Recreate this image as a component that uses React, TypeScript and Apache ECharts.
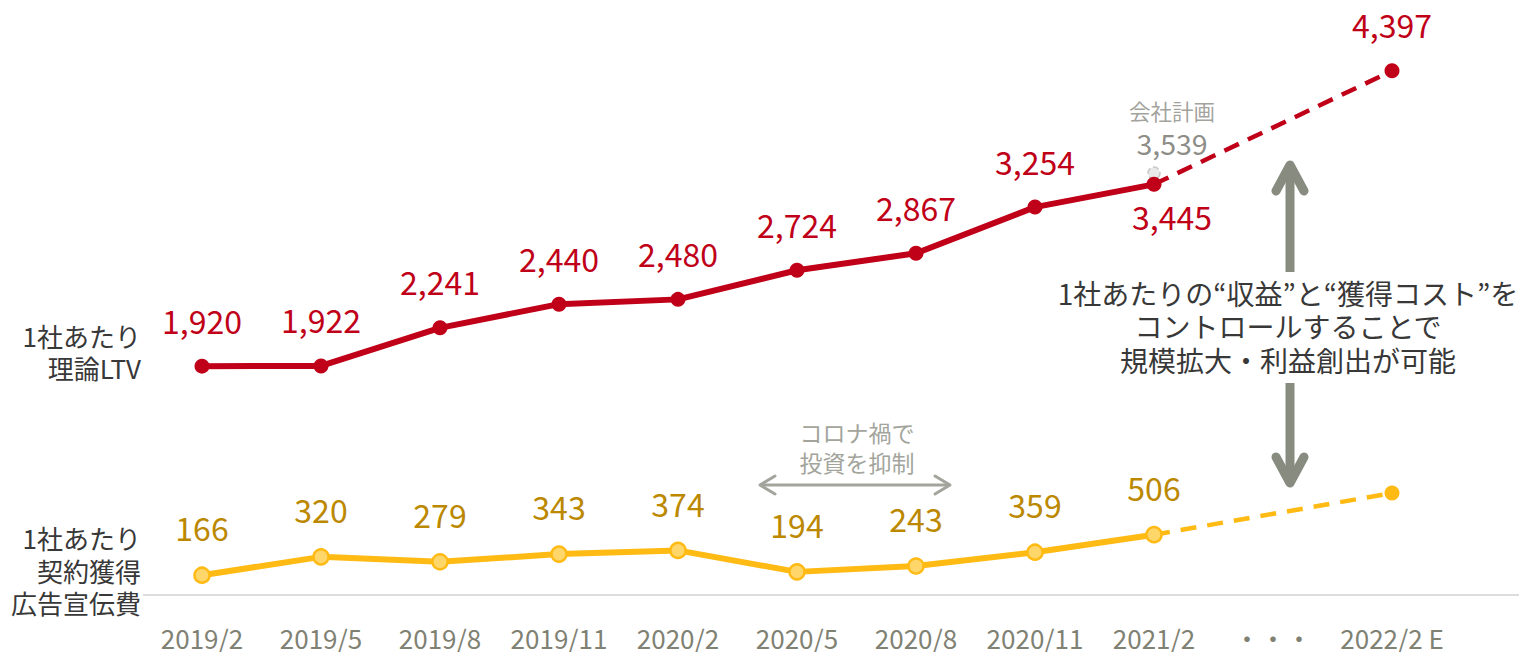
import React, { useEffect, useRef } from "react";
import * as echarts from "echarts";

const categories = ["2019/2", "2019/5", "2019/8", "2019/11", "2020/2", "2020/5", "2020/8", "2020/11", "2021/2", "・・・", "2022/2 E"];
const ltvActual = [1920, 1922, 2241, 2440, 2480, 2724, 2867, 3254, 3445];
const ltvForecast = 4397;
const ltvPlan = 3539;
const adActual = [166, 320, 279, 343, 374, 194, 243, 359, 506];
const adForecast = 855;

const RED = "#c00018";
const YEL = "#ffba14";
const YEL_LIGHT = "#ffd66a";
const YEL_TEXT = "#bb8800";
const FONT = "'Noto Sans CJK JP', 'Noto Sans', sans-serif";

const fmt = (v: number) => String(v).replace(/\B(?=(\d{3})+(?!\d))/g, ",");

export default function App() {
  const ref = useRef<HTMLDivElement>(null);
  useEffect(() => {
    document.body.style.margin = "0";
    const chart = echarts.init(ref.current!, null, { renderer: "svg" });
    const n = categories.length;
    const last = ltvActual.length - 1;

    const ltvSolid = categories.map((_, i) =>
      i < ltvActual.length
        ? i === last
          ? { value: ltvActual[i], label: { position: "bottom", distance: 8, offset: [18, 0] } }
          : ltvActual[i]
        : "-"
    );
    const ltvDash = categories.map((_, i) =>
      i === last ? { value: ltvActual[last], symbol: "none", label: { show: false } } : i === n - 1 ? ltvForecast : "-"
    );
    const adSolid = categories.map((_, i) => (i < adActual.length ? adActual[i] : "-"));
    const adDash = categories.map((_, i) =>
      i === last ? { value: adActual[last], symbol: "none" } : i === n - 1 ? adForecast : "-"
    );

    const arrowColor = "#878b80";
    const coronaColor = "#a3a59c";
    const valueLabel = (color: string) => ({
      show: true,
      position: "top",
      distance: 23,
      color,
      fontSize: 32,
      fontFamily: FONT,
      formatter: (p: any) => fmt(p.value),
    });

    chart.setOption({
      animation: false,
      textStyle: { fontFamily: FONT },
      grid: { left: 142.5, width: 1309, top: 70.5, bottom: 57 },
      xAxis: {
        type: "category",
        data: categories,
        boundaryGap: true,
        axisLine: { show: false },
        axisTick: { show: false },
        axisLabel: { color: "#7f8173", fontSize: 26, lineHeight: 26, margin: 29, fontFamily: FONT, interval: 0 },
      },
      yAxis: { type: "value", min: 0, max: 4400, show: false, splitLine: { show: false } },
      series: [
        {
          type: "scatter",
          data: [[categories[last], ltvPlan]],
          symbolSize: 12,
          z: 1,
          itemStyle: { color: "#e3e3e3", borderColor: "#bdbdbd", borderType: "dashed", borderWidth: 1.5 },
          label: {
            show: true,
            position: "top",
            distance: 8,
            offset: [18, 0],
            formatter: (p: any) => `{a|会社計画}\n{b|${fmt(p.value[1])}}`,
            rich: {
              a: { fontSize: 21.5, lineHeight: 32, color: "#8a8a84", fontFamily: FONT },
              b: { fontSize: 28.5, lineHeight: 32, color: "#6f6f68", fontFamily: FONT },
            },
          },
        },
        {
          type: "line",
          data: ltvDash,
          connectNulls: true,
          z: 2,
          symbol: "circle",
          symbolSize: 15,
          itemStyle: { color: RED },
          lineStyle: { color: RED, width: 4.5, type: [16, 10] },
          label: valueLabel(RED),
        },
        {
          type: "line",
          data: ltvSolid,
          z: 3,
          symbol: "circle",
          symbolSize: 15,
          itemStyle: { color: RED },
          lineStyle: { color: RED, width: 6 },
          label: valueLabel(RED),
        },
        {
          type: "line",
          data: adDash,
          connectNulls: true,
          z: 2,
          symbol: "circle",
          symbolSize: 15,
          itemStyle: { color: YEL },
          lineStyle: { color: YEL, width: 4.5, type: [16, 11] },
          label: { show: false },
        },
        {
          type: "line",
          data: adSolid,
          z: 3,
          symbol: "circle",
          symbolSize: 15,
          itemStyle: { color: YEL_LIGHT, borderColor: YEL, borderWidth: 2.5 },
          lineStyle: { color: YEL, width: 6 },
          label: valueLabel(YEL_TEXT),
        },
      ],
      graphic: [
        { type: "line", z: 0, shape: { x1: 143, y1: 595, x2: 1519, y2: 595 }, style: { stroke: "#dcdcdc", lineWidth: 2 } },
        {
          type: "text",
          x: 141,
          y: 351,
          style: { text: "1社あたり\n理論LTV", align: "right", verticalAlign: "middle", fill: "#383838", fontSize: 26, lineHeight: 32, fontFamily: FONT },
        },
        {
          type: "text",
          x: 141,
          y: 570,
          style: { text: "1社あたり\n契約獲得\n広告宣伝費", align: "right", verticalAlign: "middle", fill: "#383838", fontSize: 26, lineHeight: 32.5, fontFamily: FONT },
        },
        {
          type: "text",
          x: 1288,
          y: 326,
          style: {
            text: "1社あたりの“収益”と“獲得コスト”を\nコントロールすることで\n規模拡大・利益創出が可能",
            align: "center",
            verticalAlign: "middle",
            fill: "#383838",
            fontSize: 28,
            lineHeight: 33.5,
            fontFamily: FONT,
          },
        },
        { type: "line", shape: { x1: 1290, y1: 168, x2: 1290, y2: 272 }, style: { stroke: arrowColor, lineWidth: 9 } },
        { type: "polyline", shape: { points: [[1276, 191], [1290, 165], [1304, 191]] }, style: { stroke: arrowColor, lineWidth: 9, lineCap: "round", lineJoin: "round", fill: "none" } },
        { type: "line", shape: { x1: 1290, y1: 383, x2: 1290, y2: 480 }, style: { stroke: arrowColor, lineWidth: 9 } },
        { type: "polyline", shape: { points: [[1276, 457], [1290, 483], [1304, 457]] }, style: { stroke: arrowColor, lineWidth: 9, lineCap: "round", lineJoin: "round", fill: "none" } },
        {
          type: "text",
          x: 857,
          y: 447,
          style: { text: "コロナ禍で\n投資を抑制", align: "center", verticalAlign: "middle", fill: coronaColor, fontSize: 23, lineHeight: 30, fontFamily: FONT },
        },
        { type: "line", shape: { x1: 760, y1: 485, x2: 950, y2: 485 }, style: { stroke: coronaColor, lineWidth: 3 } },
        { type: "polyline", shape: { points: [[775, 476], [760, 485], [775, 494]] }, style: { stroke: coronaColor, lineWidth: 3, lineCap: "round", lineJoin: "round", fill: "none" } },
        { type: "polyline", shape: { points: [[935, 476], [950, 485], [935, 494]] }, style: { stroke: coronaColor, lineWidth: 3, lineCap: "round", lineJoin: "round", fill: "none" } },
      ],
    });
    return () => chart.dispose();
  }, []);
  return <div ref={ref} style={{ width: 1519, height: 652 }} />;
}
